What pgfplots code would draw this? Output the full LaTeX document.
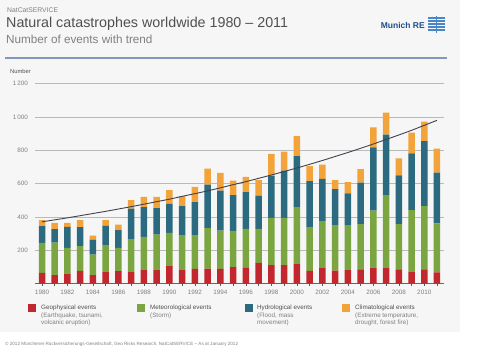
\documentclass[border=0pt]{standalone}
\usepackage{pgfplots}
\pgfplotsset{compat=1.18}
\usepackage{pgfplotstable}
\usepackage{fontspec}
\setmainfont{Liberation Sans}
\definecolor{cRed}{HTML}{C1272D}
\definecolor{cGreen}{HTML}{7BA541}
\definecolor{cBlue}{HTML}{2B6A7F}
\definecolor{cOrange}{HTML}{F2A33A}
\definecolor{bgGray}{HTML}{F6F6F6}
\definecolor{txtDark}{HTML}{505050}
\definecolor{txtLight}{HTML}{808080}
\definecolor{ruleBlue}{HTML}{8497BC}
\definecolor{logoBlue}{HTML}{1F4E8C}
\definecolor{logoLight}{HTML}{4A86C6}
\definecolor{trendCol}{HTML}{404050}

\pgfplotstableread{
year red green blue orange
1980 64 180 100 36
1981 50 195 81 38
1982 60 154 126 24
1983 76 148 114 42
1984 50 124 90 24
1985 68 160 120 32
1986 74 140 106 34
1987 72 194 183 51
1988 80 200 178 62
1989 84 210 158 68
1990 104 200 174 82
1991 80 208 176 60
1992 88 200 200 92
1993 90 242 262 96
1994 88 230 240 106
1995 98 218 214 88
1996 94 234 220 92
1997 124 204 200 92
1998 110 284 250 134
1999 110 284 284 114
2000 120 338 306 120
2001 76 260 278 90
2002 92 282 254 86
2003 78 272 216 54
2004 81 270 190 68
2005 85 272 248 82
2006 95 342 380 120
2007 95 432 366 132
2008 85 272 292 102
2009 71 370 340 124
2010 85 380 390 116
2011 67 294 304 144
}\datatable

\pgfplotstableread{
year trend
1980 370
1981 382
1982 394
1983 407
1984 420
1985 433
1986 447
1987 461
1988 476
1989 491
1990 506
1991 523
1992 539
1993 556
1994 574
1995 593
1996 611
1997 631
1998 651
1999 672
2000 693
2001 715
2002 738
2003 762
2004 786
2005 811
2006 837
2007 864
2008 891
2009 919
2010 949
2011 979
}\trendtable

\begin{document}
\begin{tikzpicture}
\fill[white] (0,0) rectangle (480bp,-350bp);
\fill[bgGray] (0,0) rectangle (460bp,-332bp);
\begin{scope}[x=1bp,y=-1bp]
  \node[anchor=base west,inner sep=0,text=txtLight,font=\fontsize{6.8bp}{8bp}\selectfont] at (7,12.3) {NatCatSERVICE};
  \node[anchor=base west,inner sep=0,text=txtDark,font=\fontsize{14.3bp}{16bp}\selectfont] at (6,27.5) {Natural catastrophes worldwide 1980 -- 2011};
  \node[anchor=base west,inner sep=0,text=txtLight,font=\fontsize{11.7bp}{13bp}\selectfont] at (6,43) {Number of events with trend};
  \node[anchor=base east,inner sep=0,text=logoBlue,font=\bfseries\fontsize{8.5bp}{10bp}\selectfont] at (425,28) {Munich RE};
  \foreach \yy in {18,21,24,27,30} {\draw[logoLight,line width=1.2bp] (428,\yy) -- (445,\yy);}
  \draw[logoLight,line width=1.2bp] (436.5,15.5) -- (436.5,32.5);
  \draw[ruleBlue,line width=2bp] (5,58) -- (447,58);
  \node[anchor=base west,inner sep=0,text=txtDark,font=\fontsize{5.8bp}{7bp}\selectfont] at (10,73.5) {Number};
  % legend
  \fill[cRed] (28,304) rectangle (36,312);
  \fill[cGreen] (137,304) rectangle (145,312);
  \fill[cBlue] (245,304) rectangle (253,312);
  \fill[cOrange] (342,304) rectangle (350,312);
  \begin{scope}[every node/.style={anchor=base west,inner sep=0,font=\fontsize{6.3bp}{7.5bp}\selectfont}]
    \node[text=txtDark] at (41,309.5) {Geophysical events};
    \node[text=txtLight] at (41,317) {(Earthquake, tsunami,};
    \node[text=txtLight] at (41,324.5) {volcanic eruption)};
    \node[text=txtDark] at (150,309.5) {Meteorological events};
    \node[text=txtLight] at (150,317) {(Storm)};
    \node[text=txtDark] at (257,309.5) {Hydrological events};
    \node[text=txtLight] at (257,317) {(Flood, mass};
    \node[text=txtLight] at (257,324.5) {movement)};
    \node[text=txtDark] at (355,309.5) {Climatological events};
    \node[text=txtLight] at (355,317) {(Extreme temperature,};
    \node[text=txtLight] at (355,324.5) {drought, forest fire)};
  \end{scope}
  \node[anchor=base west,inner sep=0,text=txtLight,font=\fontsize{4.6bp}{5.5bp}\selectfont] at (5,345) {© 2012 Münchener Rückversicherungs-Gesellschaft, Geo Risks Research, NatCatSERVICE -- As at January 2012};
\end{scope}

\begin{axis}[
  at={(35bp,-283.5bp)}, anchor=south west,
  scale only axis, width=409bp, height=200bp,
  xmin=1979.45, xmax=2011.55, ymin=0, ymax=1200,
  ybar stacked, bar width=6.5bp,
  axis lines*=left,
  x axis line style={draw=gray!80!black, line width=0.6bp},
  y axis line style={draw=none},
  ytick={200,400,600,800,1000,1200},
  yticklabels={200,400,600,800,1\,000,1\,200},
  ytick style={draw=none},
  xtick={1980,1982,...,2010},
  xticklabels={1980,1982,1984,1986,1988,1990,1992,1994,1996,1998,2000,2002,2004,2006,2008,2010},
  minor xtick={1981,1983,...,2011},
  tick align=outside,
  major tick length=2.5bp, minor tick length=2.5bp,
  x tick style={draw=gray!70!black, line width=0.5bp},
  ymajorgrids, grid style={draw=gray!55, line width=0.5bp},
  ticklabel style={font=\fontsize{6.3bp}{7.5bp}\selectfont, text=txtLight},
  yticklabel style={xshift=-1bp},
  xticklabel style={yshift=-0.5bp},
  clip=false,
]
\addplot[fill=cRed, draw=none] table[x=year,y=red] {\datatable};
\addplot[fill=cGreen, draw=none] table[x=year,y=green] {\datatable};
\addplot[fill=cBlue, draw=none] table[x=year,y=blue] {\datatable};
\addplot[fill=cOrange, draw=none] table[x=year,y=orange] {\datatable};
\end{axis}

\begin{axis}[
  at={(35bp,-283.5bp)}, anchor=south west,
  scale only axis, width=409bp, height=200bp,
  xmin=1979.45, xmax=2011.55, ymin=0, ymax=1200,
  hide axis,
]
\addplot[trendCol, line width=0.9bp, smooth, no marks] table[x=year,y=trend] {\trendtable};
\end{axis}
\end{tikzpicture}
\end{document}
